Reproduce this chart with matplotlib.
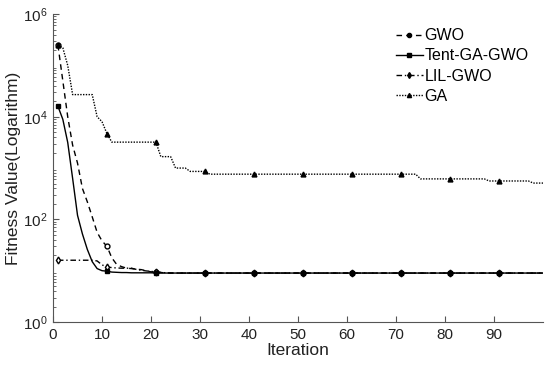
import numpy as np
import matplotlib
matplotlib.use("Agg")
import matplotlib.pyplot as plt
from matplotlib.ticker import FixedLocator, LogLocator, NullFormatter

plt.rcParams['font.family'] = ['Liberation Sans', 'DejaVu Sans']
plt.rcParams['mathtext.default'] = 'regular'

# iterations 1..100
iters = list(range(1, 101))

gwo = [2.5e5, 5.0e4, 1.0e4, 2.8e3, 1.25e3, 4.0e2, 2.2e2, 1.12e2, 56, 38,
       30, 17.8, 13.2, 12.0, 11.2, 11.0, 10.7, 10.5, 10.0, 9.5,
       9.3, 9.2, 9.1] + [9.0] * 77

tent = [1.6e4, 8.9e3, 3.16e3, 6.3e2, 1.2e2, 52, 26, 15, 11, 10,
        9.8, 9.4, 9.3, 9.2, 9.2, 9.1, 9.1, 9.1, 9.1, 9.1] + [9.0] * 80

lil = [16, 16, 16, 16, 16, 16, 16, 16, 15.5, 13,
       11.8, 11.5, 11.3, 11.2, 11.2, 11.2, 10.6, 10.2, 9.9, 9.7,
       9.5, 9.3, 9.1] + [9.0] * 77

ga = ([2.5e5, 2.2e5, 1.0e5] + [2.7e4] * 5 + [1.0e4, 8.0e3, 4.7e3] + [3.2e3] * 10
      + [1.67e3] * 3 + [1.0e3] * 3 + [860] * 4 + [760] * 43
      + [615] * 14 + [560] * 9 + [510] * 3)

fig = plt.figure(figsize=(5.5, 3.71), dpi=100)
ax = fig.add_axes([0.0964, 0.132, 0.891, 0.830])

mk = dict(markersize=3.5, markevery=10, color='black', linewidth=1.0)
ax.plot(iters, gwo, linestyle=(0, (4, 3)), marker='o', markerfacecolor='white', label='GWO', zorder=2, **mk)
ax.plot(iters, tent, linestyle='-', marker='s', label='Tent-GA-GWO', zorder=4, **mk)
ax.plot(iters, lil, linestyle=(0, (4, 2, 1, 2)), marker='d', markerfacecolor='white', label='LIL-GWO', zorder=3, **mk)
ax.plot(iters, ga, linestyle=(0, (1, 1)), marker='^', label='GA', zorder=2, **mk)

ax.set_yscale('log')
ax.set_xlim(0, 100)
ax.set_ylim(1, 1e6)
ax.set_xticks(range(0, 100, 10))
ax.yaxis.set_major_locator(FixedLocator([1, 1e2, 1e4, 1e6]))
ax.set_yticklabels(['10$^{0}$', '10$^{2}$', '10$^{4}$', '10$^{6}$'])
ax.yaxis.set_minor_locator(LogLocator(base=10, subs=np.arange(2, 10), numticks=20))
ax.yaxis.set_minor_formatter(NullFormatter())

for s in ['top', 'right']:
    ax.spines[s].set_visible(False)
for s in ['left', 'bottom']:
    ax.spines[s].set_color('#555555')
    ax.spines[s].set_linewidth(0.8)
ax.tick_params(which='both', direction='in', colors='#555555', labelcolor='#222222', labelsize=11)
ax.tick_params(which='major', length=4, pad=4)
ax.tick_params(which='minor', length=2)

ax.set_xlabel('Iteration', fontsize=12.5, color='#222222', labelpad=1)
ax.set_ylabel('Fitness Value(Logarithm)', fontsize=12.5, color='#222222', labelpad=1)

leg = ax.legend(loc='upper right', bbox_to_anchor=(0.99, 0.985), frameon=False, fontsize=11.5,
                handlelength=1.7, handletextpad=0.1, labelspacing=0.32, borderaxespad=0.2)
for h in leg.legend_handles:
    h.set_markerfacecolor('black')
    h.set_markersize(3)

fig.savefig('out.png', dpi=100)
